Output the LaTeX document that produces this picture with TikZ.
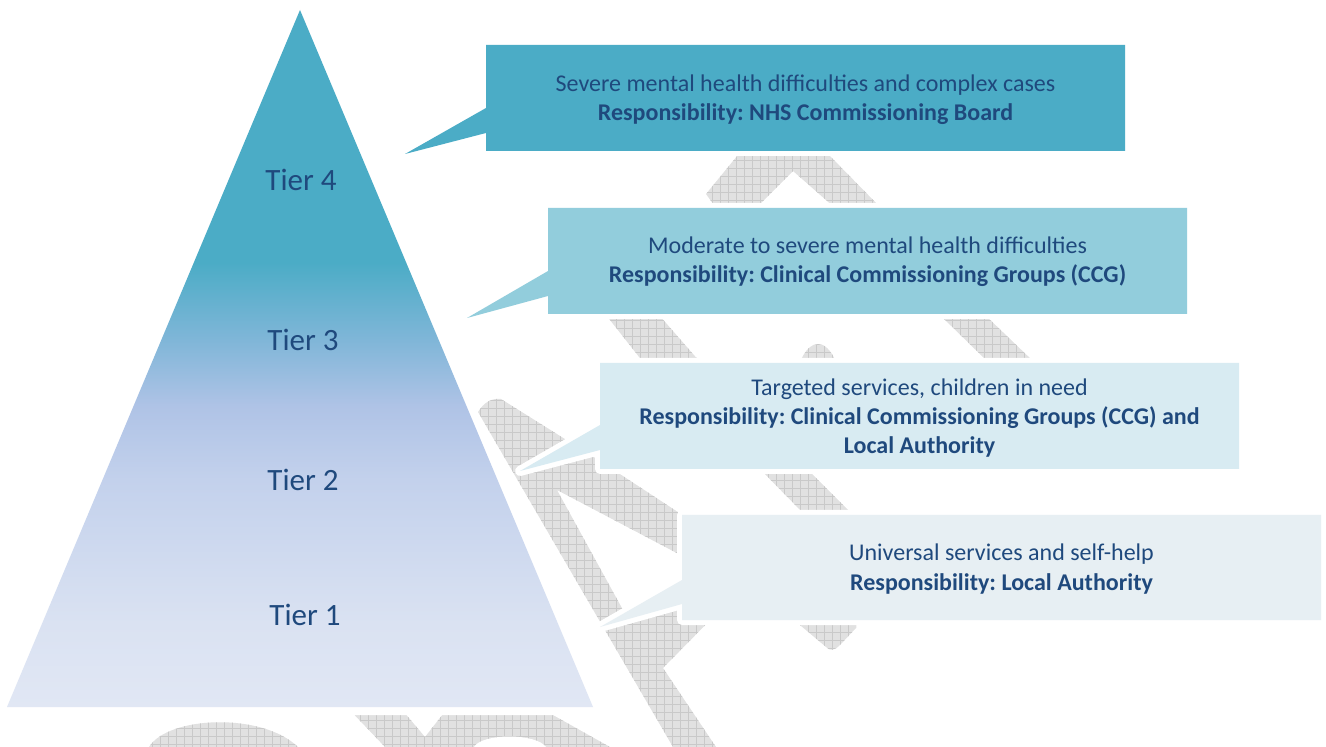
\documentclass[tikz,border=0pt]{standalone}
\usepackage{fontspec}
\setmainfont{Carlito}
\usetikzlibrary{calc}

\definecolor{ink}{HTML}{1F497D}
\definecolor{boxA}{HTML}{4BACC6}
\definecolor{boxB}{HTML}{92CDDC}
\definecolor{boxC}{HTML}{D8EBF2}
\definecolor{boxD}{HTML}{E7EFF3}
\definecolor{pyrA}{HTML}{E1E7F4}
\definecolor{pyrB}{HTML}{DAE2F2}
\definecolor{pyrC}{HTML}{C3D1EC}
\definecolor{pyrD}{HTML}{AFC3E6}
\definecolor{pyrE}{HTML}{80B6D8}
\definecolor{wmback}{HTML}{E1E1E1}
\definecolor{wmline}{HTML}{C9C9C9}

% pyramid colour ramp, bottom (25bp) to top (75bp)
\pgfdeclareverticalshading{tiershade}{100bp}{%
  color(0bp)=(pyrA); color(25bp)=(pyrA); color(31bp)=(pyrB);
  color(41.3bp)=(pyrC); color(46.6bp)=(pyrD); color(51.3bp)=(pyrE);
  color(56.9bp)=(boxA); color(100bp)=(boxA)}

% one hatched piece of the background lettering
\newcommand\wmpiece[1]{%
  \begin{scope}
    \clip #1;
    \fill[wmback] (0,0) rectangle (1326,747);
    \draw[wmgrid] (0,0) grid (1326,747);
  \end{scope}}

\tikzset{
  wmgrid/.style={draw=wmline, line width=0.4pt, step=4pt},
  halo/.style={fill=white, draw=white, line width=5pt, line join=round},
  pyrhalo/.style={fill=white, draw=white, line width=8pt, line join=round},
  note/.style={text=ink, align=center, inner sep=0pt,
    font=\fontsize{12}{14.7}\selectfont},
  tier/.style={text=ink, inner sep=0pt, font=\fontsize{15.5}{18}\selectfont},
}

\begin{document}
\frenchspacing
\begin{tikzpicture}[x=0.5pt, y=-0.5pt]
\useasboundingbox (0,0) rectangle (1326,747);

% background lettering
\wmpiece{(742,150) -- (824,150) -- (881,208) -- (835,208) -- (793,171) -- (756,208) -- (716,208) -- (706,194) -- cycle}
\wmpiece{(606,315) -- (659,315) -- (700,362) -- (643,362) -- cycle}
\wmpiece{(800,362) .. controls (810,338) and (826,338) .. (836,362) -- cycle}
\wmpiece{(940,315) -- (985,315) -- (1034,362) -- (988,362) -- cycle}
\wmpiece{(756,465) -- (803,465) -- (853,515) -- (805,515) -- cycle}
\wmpiece{(478,412) .. controls (484,402) and (492,398) .. (501,399) -- (600,461) -- (690,520) -- (690,560) -- (557,490) -- (623,610) -- (725,605) -- (663,668) -- (716,747) -- (673,747) -- cycle}
\wmpiece{(794,612) -- (856,612) -- (856,628) -- (840,645) .. controls (834,651) and (830,651) .. (826,647) -- (794,620) -- cycle}
\wmpiece{(149,747) .. controls (168,716) and (262,712) .. (298,747) -- cycle}
\wmpiece{(345,705) -- (398,705) -- (425,737) -- (450,705) -- (535,705) -- (610,747) -- (385,747) -- cycle}
\fill[white] (474,747) .. controls (482,733) and (536,733) .. (546,747) -- cycle;

% pyramid
\coordinate (apex) at (300,10);
\coordinate (baseL) at (7,707);
\coordinate (baseR) at (593,707);
\path[pyrhalo] (apex) -- (baseR) -- (baseL) -- cycle;
\shade[shading=tiershade] (apex) -- (baseR) -- (baseL) -- cycle;

\node[tier] (tier4) at (301,180) {Tier 4};
\node[tier] (tier3) at (303,340) {Tier 3};
\node[tier] (tier2) at (303,480) {Tier 2};
\node[tier] (tier1) at (305,615) {Tier 1};

% callouts
\coordinate (tipA) at (405,154);
\coordinate (tipB) at (467,318);
\coordinate (tipC) at (520,471);
\coordinate (tipD) at (600,627);

\path[halo] (486,45) -- (1125,45) -- (1125,151) -- (486,151) -- (486,133) -- (tipA) -- (486,108) -- cycle;
\fill[boxA] (486,45) -- (1125,45) -- (1125,151) -- (486,151) -- (486,133) -- (tipA) -- (486,108) -- cycle;

\path[halo] (548,208) -- (1187,208) -- (1187,314) -- (548,314) -- (548,296) -- (tipB) -- (548,271) -- cycle;
\fill[boxB] (548,208) -- (1187,208) -- (1187,314) -- (548,314) -- (548,296) -- (tipB) -- (548,271) -- cycle;

\path[halo] (600,363) -- (1239,363) -- (1239,469) -- (600,469) -- (600,450) -- (tipC) -- (600,425) -- cycle;
\fill[boxC] (600,363) -- (1239,363) -- (1239,469) -- (600,469) -- (600,450) -- (tipC) -- (600,425) -- cycle;

\path[halo] (682,515) -- (1321,515) -- (1321,620) -- (682,620) -- (682,604) -- (tipD) -- (682,580) -- cycle;
\fill[boxD] (682,515) -- (1321,515) -- (1321,620) -- (682,620) -- (682,604) -- (tipD) -- (682,580) -- cycle;

\node[note] (noteA) at (805.5,100) {Severe mental health difficulties and complex cases\\\textbf{Responsibility: NHS Commissioning Board}};
\node[note] (noteB) at (867.5,262) {Moderate to severe mental health difficulties\\\textbf{Responsibility: Clinical Commissioning Groups (CCG)}};
\node[note] (noteC) at (919.5,418) {Targeted services, children in need\\\textbf{Responsibility: Clinical Commissioning Groups (CCG) and}\\\textbf{Local Authority}};
\node[note] (noteD) at (1001.5,569) {Universal services and self-help\\\textbf{Responsibility: Local Authority}};
\end{tikzpicture}
\end{document}
